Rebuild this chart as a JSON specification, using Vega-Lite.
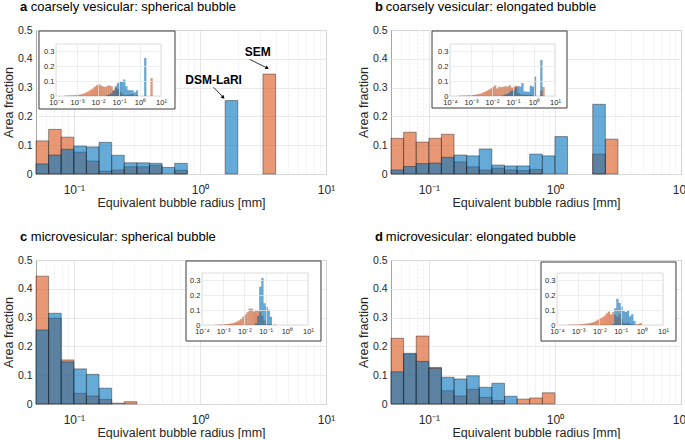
{
"$schema": "https://vega.github.io/schema/vega-lite/v6.json",
"background": "white",
"padding": {"left": 1, "top": 0, "right": 0, "bottom": 0},
"datasets": {
"main": [
{"p":"a","s":"S","lo":0.05012,"hi":0.0631,"v":0.115},
{"p":"a","s":"S","lo":0.0631,"hi":0.07943,"v":0.155},
{"p":"a","s":"S","lo":0.07943,"hi":0.1,"v":0.128},
{"p":"a","s":"S","lo":0.1,"hi":0.1259,"v":0.076},
{"p":"a","s":"S","lo":0.1259,"hi":0.1585,"v":0.045},
{"p":"a","s":"S","lo":0.1585,"hi":0.1995,"v":0.010},
{"p":"a","s":"S","lo":0.1995,"hi":0.2512,"v":0.014},
{"p":"a","s":"S","lo":0.2512,"hi":0.3162,"v":0.025},
{"p":"a","s":"S","lo":0.3162,"hi":0.3981,"v":0.025},
{"p":"a","s":"S","lo":0.3981,"hi":0.5012,"v":0.030},
{"p":"a","s":"S","lo":0.631,"hi":0.7943,"v":0.013},
{"p":"a","s":"S","lo":3.162,"hi":3.981,"v":0.347},
{"p":"a","s":"D","lo":0.05012,"hi":0.0631,"v":0.035},
{"p":"a","s":"D","lo":0.0631,"hi":0.07943,"v":0.066},
{"p":"a","s":"D","lo":0.07943,"hi":0.1,"v":0.086},
{"p":"a","s":"D","lo":0.1,"hi":0.1259,"v":0.097},
{"p":"a","s":"D","lo":0.1259,"hi":0.1585,"v":0.094},
{"p":"a","s":"D","lo":0.1585,"hi":0.1995,"v":0.110},
{"p":"a","s":"D","lo":0.1995,"hi":0.2512,"v":0.065},
{"p":"a","s":"D","lo":0.2512,"hi":0.3162,"v":0.039},
{"p":"a","s":"D","lo":0.3162,"hi":0.3981,"v":0.039},
{"p":"a","s":"D","lo":0.3981,"hi":0.5012,"v":0.037},
{"p":"a","s":"D","lo":0.5012,"hi":0.631,"v":0.023},
{"p":"a","s":"D","lo":0.631,"hi":0.7943,"v":0.037},
{"p":"a","s":"D","lo":1.585,"hi":1.995,"v":0.255},
{"p":"b","s":"S","lo":0.05012,"hi":0.0631,"v":0.124},
{"p":"b","s":"S","lo":0.0631,"hi":0.07943,"v":0.145},
{"p":"b","s":"S","lo":0.07943,"hi":0.1,"v":0.111},
{"p":"b","s":"S","lo":0.1,"hi":0.1259,"v":0.124},
{"p":"b","s":"S","lo":0.1259,"hi":0.1585,"v":0.138},
{"p":"b","s":"S","lo":0.1585,"hi":0.1995,"v":0.042},
{"p":"b","s":"S","lo":0.1995,"hi":0.2512,"v":0.025},
{"p":"b","s":"S","lo":0.2512,"hi":0.3162,"v":0.014},
{"p":"b","s":"S","lo":0.3162,"hi":0.3981,"v":0.020},
{"p":"b","s":"S","lo":0.3981,"hi":0.5012,"v":0.014},
{"p":"b","s":"S","lo":0.5012,"hi":0.631,"v":0.012},
{"p":"b","s":"S","lo":0.631,"hi":0.7943,"v":0.016},
{"p":"b","s":"S","lo":1.995,"hi":2.512,"v":0.069},
{"p":"b","s":"S","lo":2.512,"hi":3.162,"v":0.121},
{"p":"b","s":"D","lo":0.05012,"hi":0.0631,"v":0.014},
{"p":"b","s":"D","lo":0.0631,"hi":0.07943,"v":0.026},
{"p":"b","s":"D","lo":0.07943,"hi":0.1,"v":0.036},
{"p":"b","s":"D","lo":0.1,"hi":0.1259,"v":0.038},
{"p":"b","s":"D","lo":0.1259,"hi":0.1585,"v":0.058},
{"p":"b","s":"D","lo":0.1585,"hi":0.1995,"v":0.066},
{"p":"b","s":"D","lo":0.1995,"hi":0.2512,"v":0.063},
{"p":"b","s":"D","lo":0.2512,"hi":0.3162,"v":0.087},
{"p":"b","s":"D","lo":0.3162,"hi":0.3981,"v":0.031},
{"p":"b","s":"D","lo":0.3981,"hi":0.5012,"v":0.028},
{"p":"b","s":"D","lo":0.5012,"hi":0.631,"v":0.028},
{"p":"b","s":"D","lo":0.631,"hi":0.7943,"v":0.069},
{"p":"b","s":"D","lo":0.7943,"hi":1,"v":0.063},
{"p":"b","s":"D","lo":1,"hi":1.259,"v":0.130},
{"p":"b","s":"D","lo":1.995,"hi":2.512,"v":0.242},
{"p":"c","s":"S","lo":0.05012,"hi":0.0631,"v":0.444},
{"p":"c","s":"S","lo":0.0631,"hi":0.07943,"v":0.298},
{"p":"c","s":"S","lo":0.07943,"hi":0.1,"v":0.153},
{"p":"c","s":"S","lo":0.1,"hi":0.1259,"v":0.037},
{"p":"c","s":"S","lo":0.1259,"hi":0.1585,"v":0.028},
{"p":"c","s":"S","lo":0.1585,"hi":0.1995,"v":0.016},
{"p":"c","s":"S","lo":0.1995,"hi":0.2512,"v":0.003},
{"p":"c","s":"S","lo":0.2512,"hi":0.3162,"v":0.008},
{"p":"c","s":"D","lo":0.05012,"hi":0.0631,"v":0.257},
{"p":"c","s":"D","lo":0.0631,"hi":0.07943,"v":0.315},
{"p":"c","s":"D","lo":0.07943,"hi":0.1,"v":0.146},
{"p":"c","s":"D","lo":0.1,"hi":0.1259,"v":0.122},
{"p":"c","s":"D","lo":0.1259,"hi":0.1585,"v":0.103},
{"p":"c","s":"D","lo":0.1585,"hi":0.1995,"v":0.055},
{"p":"d","s":"S","lo":0.05012,"hi":0.0631,"v":0.228},
{"p":"d","s":"S","lo":0.0631,"hi":0.07943,"v":0.173},
{"p":"d","s":"S","lo":0.07943,"hi":0.1,"v":0.236},
{"p":"d","s":"S","lo":0.1,"hi":0.1259,"v":0.127},
{"p":"d","s":"S","lo":0.1259,"hi":0.1585,"v":0.046},
{"p":"d","s":"S","lo":0.1585,"hi":0.1995,"v":0.028},
{"p":"d","s":"S","lo":0.1995,"hi":0.2512,"v":0.051},
{"p":"d","s":"S","lo":0.2512,"hi":0.3162,"v":0.023},
{"p":"d","s":"S","lo":0.3162,"hi":0.3981,"v":0.012},
{"p":"d","s":"S","lo":0.5012,"hi":0.631,"v":0.017},
{"p":"d","s":"S","lo":0.631,"hi":0.7943,"v":0.021},
{"p":"d","s":"S","lo":0.7943,"hi":1,"v":0.039},
{"p":"d","s":"D","lo":0.05012,"hi":0.0631,"v":0.112},
{"p":"d","s":"D","lo":0.0631,"hi":0.07943,"v":0.176},
{"p":"d","s":"D","lo":0.07943,"hi":0.1,"v":0.148},
{"p":"d","s":"D","lo":0.1,"hi":0.1259,"v":0.124},
{"p":"d","s":"D","lo":0.1259,"hi":0.1585,"v":0.093},
{"p":"d","s":"D","lo":0.1585,"hi":0.1995,"v":0.087},
{"p":"d","s":"D","lo":0.1995,"hi":0.2512,"v":0.098},
{"p":"d","s":"D","lo":0.2512,"hi":0.3162,"v":0.058},
{"p":"d","s":"D","lo":0.3162,"hi":0.3981,"v":0.072},
{"p":"d","s":"D","lo":0.3981,"hi":0.5012,"v":0.027}
],
"inset": [
{"p":"a","s":"S","lo":2.512e-4,"hi":3.162e-4,"v":0.001},
{"p":"a","s":"S","lo":3.162e-4,"hi":3.981e-4,"v":0.002},
{"p":"a","s":"S","lo":3.981e-4,"hi":5.012e-4,"v":0.002},
{"p":"a","s":"S","lo":5.012e-4,"hi":6.31e-4,"v":0.003},
{"p":"a","s":"S","lo":6.31e-4,"hi":7.943e-4,"v":0.004},
{"p":"a","s":"S","lo":7.943e-4,"hi":1e-3,"v":0.005},
{"p":"a","s":"S","lo":1e-3,"hi":1.259e-3,"v":0.007},
{"p":"a","s":"S","lo":1.259e-3,"hi":1.585e-3,"v":0.009},
{"p":"a","s":"S","lo":1.585e-3,"hi":1.995e-3,"v":0.012},
{"p":"a","s":"S","lo":1.995e-3,"hi":2.512e-3,"v":0.017},
{"p":"a","s":"S","lo":2.512e-3,"hi":3.162e-3,"v":0.024},
{"p":"a","s":"S","lo":3.162e-3,"hi":3.981e-3,"v":0.031},
{"p":"a","s":"S","lo":3.981e-3,"hi":5.012e-3,"v":0.040},
{"p":"a","s":"S","lo":5.012e-3,"hi":6.31e-3,"v":0.050},
{"p":"a","s":"S","lo":6.31e-3,"hi":7.943e-3,"v":0.062},
{"p":"a","s":"S","lo":7.943e-3,"hi":0.01,"v":0.072},
{"p":"a","s":"S","lo":0.01,"hi":0.01259,"v":0.078},
{"p":"a","s":"S","lo":0.01259,"hi":0.01585,"v":0.070},
{"p":"a","s":"S","lo":0.01585,"hi":0.01995,"v":0.064},
{"p":"a","s":"S","lo":0.01995,"hi":0.02512,"v":0.060},
{"p":"a","s":"S","lo":0.02512,"hi":0.03162,"v":0.068},
{"p":"a","s":"S","lo":0.03162,"hi":0.03981,"v":0.070},
{"p":"a","s":"S","lo":0.03981,"hi":0.05012,"v":0.065},
{"p":"a","s":"S","lo":0.05012,"hi":0.0631,"v":0.040},
{"p":"a","s":"S","lo":0.0631,"hi":0.07943,"v":0.054},
{"p":"a","s":"S","lo":0.07943,"hi":0.1,"v":0.045},
{"p":"a","s":"S","lo":0.1,"hi":0.1259,"v":0.027},
{"p":"a","s":"S","lo":0.1259,"hi":0.1585,"v":0.016},
{"p":"a","s":"S","lo":0.1585,"hi":0.1995,"v":0.004},
{"p":"a","s":"S","lo":0.1995,"hi":0.2512,"v":0.005},
{"p":"a","s":"S","lo":0.2512,"hi":0.3162,"v":0.009},
{"p":"a","s":"S","lo":0.3162,"hi":0.3981,"v":0.009},
{"p":"a","s":"S","lo":0.3981,"hi":0.5012,"v":0.012},
{"p":"a","s":"S","lo":0.631,"hi":0.7943,"v":0.005},
{"p":"a","s":"S","lo":3.162,"hi":3.981,"v":0.120},
{"p":"a","s":"D","lo":0.02512,"hi":0.03162,"v":0.005},
{"p":"a","s":"D","lo":0.03162,"hi":0.03981,"v":0.010},
{"p":"a","s":"D","lo":0.03981,"hi":0.05012,"v":0.020},
{"p":"a","s":"D","lo":0.05012,"hi":0.0631,"v":0.035},
{"p":"a","s":"D","lo":0.0631,"hi":0.07943,"v":0.066},
{"p":"a","s":"D","lo":0.07943,"hi":0.1,"v":0.086},
{"p":"a","s":"D","lo":0.1,"hi":0.1259,"v":0.097},
{"p":"a","s":"D","lo":0.1259,"hi":0.1585,"v":0.094},
{"p":"a","s":"D","lo":0.1585,"hi":0.1995,"v":0.110},
{"p":"a","s":"D","lo":0.1995,"hi":0.2512,"v":0.065},
{"p":"a","s":"D","lo":0.2512,"hi":0.3162,"v":0.039},
{"p":"a","s":"D","lo":0.3162,"hi":0.3981,"v":0.039},
{"p":"a","s":"D","lo":0.3981,"hi":0.5012,"v":0.037},
{"p":"a","s":"D","lo":0.5012,"hi":0.631,"v":0.023},
{"p":"a","s":"D","lo":0.631,"hi":0.7943,"v":0.037},
{"p":"a","s":"D","lo":1.585,"hi":1.995,"v":0.255},
{"p":"b","s":"S","lo":2.512e-4,"hi":3.162e-4,"v":0.001},
{"p":"b","s":"S","lo":3.162e-4,"hi":3.981e-4,"v":0.001},
{"p":"b","s":"S","lo":3.981e-4,"hi":5.012e-4,"v":0.002},
{"p":"b","s":"S","lo":5.012e-4,"hi":6.31e-4,"v":0.002},
{"p":"b","s":"S","lo":6.31e-4,"hi":7.943e-4,"v":0.003},
{"p":"b","s":"S","lo":7.943e-4,"hi":1e-3,"v":0.004},
{"p":"b","s":"S","lo":1e-3,"hi":1.259e-3,"v":0.005},
{"p":"b","s":"S","lo":1.259e-3,"hi":1.585e-3,"v":0.007},
{"p":"b","s":"S","lo":1.585e-3,"hi":1.995e-3,"v":0.009},
{"p":"b","s":"S","lo":1.995e-3,"hi":2.512e-3,"v":0.012},
{"p":"b","s":"S","lo":2.512e-3,"hi":3.162e-3,"v":0.016},
{"p":"b","s":"S","lo":3.162e-3,"hi":3.981e-3,"v":0.021},
{"p":"b","s":"S","lo":3.981e-3,"hi":5.012e-3,"v":0.027},
{"p":"b","s":"S","lo":5.012e-3,"hi":6.31e-3,"v":0.034},
{"p":"b","s":"S","lo":6.31e-3,"hi":7.943e-3,"v":0.042},
{"p":"b","s":"S","lo":7.943e-3,"hi":0.01,"v":0.050},
{"p":"b","s":"S","lo":0.01,"hi":0.01259,"v":0.060},
{"p":"b","s":"S","lo":0.01259,"hi":0.01585,"v":0.070},
{"p":"b","s":"S","lo":0.01585,"hi":0.01995,"v":0.050},
{"p":"b","s":"S","lo":0.01995,"hi":0.02512,"v":0.062},
{"p":"b","s":"S","lo":0.02512,"hi":0.03162,"v":0.058},
{"p":"b","s":"S","lo":0.03162,"hi":0.03981,"v":0.062},
{"p":"b","s":"S","lo":0.03981,"hi":0.05012,"v":0.065},
{"p":"b","s":"S","lo":0.05012,"hi":0.0631,"v":0.062},
{"p":"b","s":"S","lo":0.0631,"hi":0.07943,"v":0.072},
{"p":"b","s":"S","lo":0.07943,"hi":0.1,"v":0.056},
{"p":"b","s":"S","lo":0.1,"hi":0.1259,"v":0.062},
{"p":"b","s":"S","lo":0.1259,"hi":0.1585,"v":0.069},
{"p":"b","s":"S","lo":0.1585,"hi":0.1995,"v":0.021},
{"p":"b","s":"S","lo":0.1995,"hi":0.2512,"v":0.012},
{"p":"b","s":"S","lo":0.2512,"hi":0.3162,"v":0.007},
{"p":"b","s":"S","lo":0.3162,"hi":0.3981,"v":0.010},
{"p":"b","s":"S","lo":0.3981,"hi":0.5012,"v":0.007},
{"p":"b","s":"S","lo":0.5012,"hi":0.631,"v":0.006},
{"p":"b","s":"S","lo":0.631,"hi":0.7943,"v":0.008},
{"p":"b","s":"S","lo":1.995,"hi":2.512,"v":0.035},
{"p":"b","s":"S","lo":2.512,"hi":3.162,"v":0.060},
{"p":"b","s":"D","lo":0.03162,"hi":0.03981,"v":0.005},
{"p":"b","s":"D","lo":0.03981,"hi":0.05012,"v":0.010},
{"p":"b","s":"D","lo":0.05012,"hi":0.0631,"v":0.014},
{"p":"b","s":"D","lo":0.0631,"hi":0.07943,"v":0.026},
{"p":"b","s":"D","lo":0.07943,"hi":0.1,"v":0.036},
{"p":"b","s":"D","lo":0.1,"hi":0.1259,"v":0.038},
{"p":"b","s":"D","lo":0.1259,"hi":0.1585,"v":0.058},
{"p":"b","s":"D","lo":0.1585,"hi":0.1995,"v":0.066},
{"p":"b","s":"D","lo":0.1995,"hi":0.2512,"v":0.063},
{"p":"b","s":"D","lo":0.2512,"hi":0.3162,"v":0.087},
{"p":"b","s":"D","lo":0.3162,"hi":0.3981,"v":0.031},
{"p":"b","s":"D","lo":0.3981,"hi":0.5012,"v":0.028},
{"p":"b","s":"D","lo":0.5012,"hi":0.631,"v":0.028},
{"p":"b","s":"D","lo":0.631,"hi":0.7943,"v":0.069},
{"p":"b","s":"D","lo":0.7943,"hi":1,"v":0.063},
{"p":"b","s":"D","lo":1,"hi":1.259,"v":0.130},
{"p":"b","s":"D","lo":1.995,"hi":2.512,"v":0.242},
{"p":"c","s":"S","lo":3.981e-4,"hi":5.012e-4,"v":0.001},
{"p":"c","s":"S","lo":5.012e-4,"hi":6.31e-4,"v":0.001},
{"p":"c","s":"S","lo":6.31e-4,"hi":7.943e-4,"v":0.002},
{"p":"c","s":"S","lo":7.943e-4,"hi":1e-3,"v":0.003},
{"p":"c","s":"S","lo":1e-3,"hi":1.259e-3,"v":0.004},
{"p":"c","s":"S","lo":1.259e-3,"hi":1.585e-3,"v":0.005},
{"p":"c","s":"S","lo":1.585e-3,"hi":1.995e-3,"v":0.007},
{"p":"c","s":"S","lo":1.995e-3,"hi":2.512e-3,"v":0.009},
{"p":"c","s":"S","lo":2.512e-3,"hi":3.162e-3,"v":0.012},
{"p":"c","s":"S","lo":3.162e-3,"hi":3.981e-3,"v":0.016},
{"p":"c","s":"S","lo":3.981e-3,"hi":5.012e-3,"v":0.022},
{"p":"c","s":"S","lo":5.012e-3,"hi":6.31e-3,"v":0.030},
{"p":"c","s":"S","lo":6.31e-3,"hi":7.943e-3,"v":0.040},
{"p":"c","s":"S","lo":7.943e-3,"hi":0.01,"v":0.055},
{"p":"c","s":"S","lo":0.01,"hi":0.01259,"v":0.070},
{"p":"c","s":"S","lo":0.01259,"hi":0.01585,"v":0.085},
{"p":"c","s":"S","lo":0.01585,"hi":0.01995,"v":0.110},
{"p":"c","s":"S","lo":0.01995,"hi":0.02512,"v":0.110},
{"p":"c","s":"S","lo":0.02512,"hi":0.03162,"v":0.090},
{"p":"c","s":"S","lo":0.03162,"hi":0.03981,"v":0.098},
{"p":"c","s":"S","lo":0.03981,"hi":0.05012,"v":0.095},
{"p":"c","s":"S","lo":0.05012,"hi":0.0631,"v":0.085},
{"p":"c","s":"S","lo":0.0631,"hi":0.07943,"v":0.060},
{"p":"c","s":"S","lo":0.07943,"hi":0.1,"v":0.030},
{"p":"c","s":"S","lo":0.1,"hi":0.1259,"v":0.008},
{"p":"c","s":"S","lo":0.1259,"hi":0.1585,"v":0.006},
{"p":"c","s":"S","lo":0.1585,"hi":0.1995,"v":0.003},
{"p":"c","s":"S","lo":0.2512,"hi":0.3162,"v":0.002},
{"p":"c","s":"D","lo":0.03162,"hi":0.03981,"v":0.010},
{"p":"c","s":"D","lo":0.03981,"hi":0.05012,"v":0.060},
{"p":"c","s":"D","lo":0.05012,"hi":0.0631,"v":0.257},
{"p":"c","s":"D","lo":0.0631,"hi":0.07943,"v":0.315},
{"p":"c","s":"D","lo":0.07943,"hi":0.1,"v":0.146},
{"p":"c","s":"D","lo":0.1,"hi":0.1259,"v":0.122},
{"p":"c","s":"D","lo":0.1259,"hi":0.1585,"v":0.103},
{"p":"c","s":"D","lo":0.1585,"hi":0.1995,"v":0.055},
{"p":"d","s":"S","lo":3.162e-4,"hi":3.981e-4,"v":0.001},
{"p":"d","s":"S","lo":3.981e-4,"hi":5.012e-4,"v":0.001},
{"p":"d","s":"S","lo":5.012e-4,"hi":6.31e-4,"v":0.002},
{"p":"d","s":"S","lo":6.31e-4,"hi":7.943e-4,"v":0.002},
{"p":"d","s":"S","lo":7.943e-4,"hi":1e-3,"v":0.003},
{"p":"d","s":"S","lo":1e-3,"hi":1.259e-3,"v":0.004},
{"p":"d","s":"S","lo":1.259e-3,"hi":1.585e-3,"v":0.005},
{"p":"d","s":"S","lo":1.585e-3,"hi":1.995e-3,"v":0.006},
{"p":"d","s":"S","lo":1.995e-3,"hi":2.512e-3,"v":0.008},
{"p":"d","s":"S","lo":2.512e-3,"hi":3.162e-3,"v":0.010},
{"p":"d","s":"S","lo":3.162e-3,"hi":3.981e-3,"v":0.012},
{"p":"d","s":"S","lo":3.981e-3,"hi":5.012e-3,"v":0.015},
{"p":"d","s":"S","lo":5.012e-3,"hi":6.31e-3,"v":0.020},
{"p":"d","s":"S","lo":6.31e-3,"hi":7.943e-3,"v":0.028},
{"p":"d","s":"S","lo":7.943e-3,"hi":0.01,"v":0.036},
{"p":"d","s":"S","lo":0.01,"hi":0.01259,"v":0.044},
{"p":"d","s":"S","lo":0.01259,"hi":0.01585,"v":0.050},
{"p":"d","s":"S","lo":0.01585,"hi":0.01995,"v":0.062},
{"p":"d","s":"S","lo":0.01995,"hi":0.02512,"v":0.078},
{"p":"d","s":"S","lo":0.02512,"hi":0.03162,"v":0.090},
{"p":"d","s":"S","lo":0.03162,"hi":0.03981,"v":0.070},
{"p":"d","s":"S","lo":0.03981,"hi":0.05012,"v":0.085},
{"p":"d","s":"S","lo":0.05012,"hi":0.0631,"v":0.068},
{"p":"d","s":"S","lo":0.0631,"hi":0.07943,"v":0.052},
{"p":"d","s":"S","lo":0.07943,"hi":0.1,"v":0.071},
{"p":"d","s":"S","lo":0.1,"hi":0.1259,"v":0.038},
{"p":"d","s":"S","lo":0.1259,"hi":0.1585,"v":0.014},
{"p":"d","s":"S","lo":0.1585,"hi":0.1995,"v":0.008},
{"p":"d","s":"S","lo":0.1995,"hi":0.2512,"v":0.015},
{"p":"d","s":"S","lo":0.2512,"hi":0.3162,"v":0.007},
{"p":"d","s":"S","lo":0.3162,"hi":0.3981,"v":0.003},
{"p":"d","s":"S","lo":0.5012,"hi":0.631,"v":0.005},
{"p":"d","s":"S","lo":0.631,"hi":0.7943,"v":0.006},
{"p":"d","s":"S","lo":0.7943,"hi":1,"v":0.012},
{"p":"d","s":"D","lo":0.03981,"hi":0.05012,"v":0.005},
{"p":"d","s":"D","lo":0.05012,"hi":0.0631,"v":0.112},
{"p":"d","s":"D","lo":0.0631,"hi":0.07943,"v":0.176},
{"p":"d","s":"D","lo":0.07943,"hi":0.1,"v":0.148},
{"p":"d","s":"D","lo":0.1,"hi":0.1259,"v":0.124},
{"p":"d","s":"D","lo":0.1259,"hi":0.1585,"v":0.093},
{"p":"d","s":"D","lo":0.1585,"hi":0.1995,"v":0.087},
{"p":"d","s":"D","lo":0.1995,"hi":0.2512,"v":0.098},
{"p":"d","s":"D","lo":0.2512,"hi":0.3162,"v":0.058},
{"p":"d","s":"D","lo":0.3162,"hi":0.3981,"v":0.072},
{"p":"d","s":"D","lo":0.3981,"hi":0.5012,"v":0.027}
]
},
"concat": [
{
"width": 290, "height": 144,
"title": {"text": "a", "subtitle": "\u200b\u00a0\u00a0\u00a0coarsely vesicular: spherical bubble"},
"layer": [
{"layer": [
{"data": {"name": "main"}, "transform": [{"filter": "datum.p == 'a'"}],
 "mark": {"type": "rect", "fillOpacity": 0.6, "stroke": "#1a1a1a", "strokeOpacity": 0.6, "strokeWidth": 0.7},
 "encoding": {
  "x": {"field": "lo", "type": "quantitative", "scale": {"type": "log", "domain": [0.05012, 10], "nice": false},
   "axis": {"orient": "bottom", "values": [0.06,0.07,0.08,0.09,0.1,0.2,0.3,0.4,0.5,0.6,0.7,0.8,0.9,1,2,3,4,5,6,7,8,9,10], "labelExpr": "datum.value == 0.1 ? '10⁻¹' : datum.value == 1 ? '10⁰' : datum.value == 10 ? '10¹' : ''", "title": "Equivalent bubble radius [mm]", "titleFontSize": 12.5, "labelFontSize": 12, "labelPadding": 10, "titlePadding": 1, "grid": true, "gridWidth": 0.8, "gridColor": {"condition": {"test": "datum.value == 0.1 || datum.value == 1 || datum.value == 10", "value": "#dedede"}, "value": "#e6e6e6"}, "gridDash": {"condition": {"test": "datum.value == 0.1 || datum.value == 1 || datum.value == 10", "value": []}, "value": [2, 2]}}},
  "x2": {"field": "hi"},
  "y": {"field": "v", "type": "quantitative", "scale": {"domain": [0, 0.5], "nice": false},
   "axis": {"orient": "left", "values": [0,0.1,0.2,0.3,0.4,0.5], "format": "~g", "title": "Area fraction", "titleFontSize": 12.5, "labelFontSize": 10.5, "labelPadding": 4, "titlePadding": 2, "grid": true, "gridWidth": 0.8, "gridColor": "#e4e4e4"}},
  "y2": {"datum": 0},
  "color": {"field": "s", "type": "nominal", "scale": {"domain": ["S", "D"], "range": ["#D95319", "#0072BD"]}, "legend": null}
 }}
]},
{"layer": [
{"data": {"values": [{}]}, "mark": {"type": "rect", "fill": "white", "stroke": "#3a3a3a", "strokeWidth": 1},
 "encoding": {
  "x": {"datum": 1.55e-5, "type": "quantitative", "scale": {"type": "log", "domain": [1e-4, 10], "range": [20, 125], "nice": false}, "axis": null},
  "x2": {"datum": 46.4},
  "y": {"datum": -0.0875, "type": "quantitative", "scale": {"domain": [0, 0.35], "range": [66, 14], "nice": false}, "axis": null},
  "y2": {"datum": 0.4375}}},
{"data": {"values": [{}]}, "mark": {"type": "rect", "fillOpacity": 0, "stroke": "#cfcfcf", "strokeWidth": 0.7},
 "encoding": {
  "x": {"datum": 1e-4, "type": "quantitative", "scale": {"type": "log", "domain": [1e-4, 10], "range": [20, 125], "nice": false},
   "axis": {"orient": "top", "values": [1e-4, 1e-3, 0.01, 0.1, 1, 10], "labels": false, "grid": true, "gridColor": "#e6e6e6", "gridWidth": 0.7, "title": null, "zindex": 1}},
  "x2": {"datum": 10},
  "y": {"datum": 0, "type": "quantitative", "scale": {"domain": [0, 0.35], "range": [66, 14], "nice": false}, "axis": null},
  "y2": {"datum": 0.35}}},
{"data": {"name": "inset"}, "transform": [{"filter": "datum.p == 'a'"}],
 "mark": {"type": "rect", "fillOpacity": 0.6, "stroke": "#000", "strokeOpacity": 0.2, "strokeWidth": 0.3},
 "encoding": {
  "x": {"field": "lo", "type": "quantitative", "scale": {"type": "log", "domain": [1e-4, 10], "range": [20, 125], "nice": false},
   "axis": {"orient": "bottom", "offset": -78, "values": [1e-4, 1e-3, 0.01, 0.1, 1, 10], "labelExpr": "datum.value < 0.0005 ? '10⁻⁴' : datum.value < 0.005 ? '10⁻³' : datum.value < 0.05 ? '10⁻²' : datum.value < 0.5 ? '10⁻¹' : datum.value < 5 ? '10⁰' : '10¹'", "labelFontSize": 7.5, "labelPadding": 2, "grid": false, "title": null, "zindex": 1}},
  "x2": {"field": "hi"},
  "y": {"field": "v", "type": "quantitative", "scale": {"domain": [0, 0.35], "range": [66, 14], "nice": false},
   "axis": {"orient": "left", "offset": -20, "values": [0, 0.1, 0.2, 0.3], "format": "~g", "labelFontSize": 7.5, "labelPadding": 2, "grid": true, "gridColor": "#e6e6e6", "gridWidth": 0.7, "title": null, "zindex": 1}},
  "y2": {"datum": 0},
  "color": {"field": "s", "type": "nominal", "scale": {"domain": ["S", "D"], "range": ["#D95319", "#0072BD"]}, "legend": null}
 }}
], "resolve": {"axis": {"x": "independent", "y": "independent"}}},
{"layer": [
{"data": {"values": [{}]}, "mark": {"type": "rule", "color": "#000", "strokeWidth": 0.8},
 "encoding": {
  "x": {"datum": 1.284, "type": "quantitative", "scale": {"type": "log", "domain": [0.05012, 10], "nice": false}, "axis": null},
  "x2": {"datum": 1.52},
  "y": {"datum": 0.301, "type": "quantitative", "scale": {"domain": [0, 0.5], "nice": false}, "axis": null},
  "y2": {"datum": 0.268}}},
{"data": {"values": [{}]}, "mark": {"type": "rule", "color": "#000", "strokeWidth": 0.8},
 "encoding": {
  "x": {"datum": 2.478, "type": "quantitative", "scale": {"type": "log", "domain": [0.05012, 10], "nice": false}, "axis": null},
  "x2": {"datum": 3.38},
  "y": {"datum": 0.398, "type": "quantitative", "scale": {"domain": [0, 0.5], "nice": false}, "axis": null},
  "y2": {"datum": 0.369}}},
{"data": {"values": [{}]}, "mark": {"type": "point", "shape": "triangle-down", "filled": true, "color": "#000", "size": 16, "angle": 316, "opacity": 1},
 "encoding": {
  "x": {"datum": 1.53, "type": "quantitative", "scale": {"type": "log", "domain": [0.05012, 10], "nice": false}, "axis": null},
  "y": {"datum": 0.266, "type": "quantitative", "scale": {"domain": [0, 0.5], "nice": false}, "axis": null}}},
{"data": {"values": [{}]}, "mark": {"type": "point", "shape": "triangle-down", "filled": true, "color": "#000", "size": 16, "angle": 296, "opacity": 1},
 "encoding": {
  "x": {"datum": 3.42, "type": "quantitative", "scale": {"type": "log", "domain": [0.05012, 10], "nice": false}, "axis": null},
  "y": {"datum": 0.368, "type": "quantitative", "scale": {"domain": [0, 0.5], "nice": false}, "axis": null}}},
{"data": {"values": [{}]}, "mark": {"type": "text", "text": "DSM-LaRI", "fontWeight": "bold", "fontSize": 12, "color": "#000", "align": "center", "baseline": "middle"},
 "encoding": {
  "x": {"datum": 1.284, "type": "quantitative", "scale": {"type": "log", "domain": [0.05012, 10], "nice": false}, "axis": null},
  "y": {"datum": 0.326, "type": "quantitative", "scale": {"domain": [0, 0.5], "nice": false}, "axis": null}}},
{"data": {"values": [{}]}, "mark": {"type": "text", "text": "SEM", "fontWeight": "bold", "fontSize": 12, "color": "#000", "align": "center", "baseline": "middle"},
 "encoding": {
  "x": {"datum": 2.88, "type": "quantitative", "scale": {"type": "log", "domain": [0.05012, 10], "nice": false}, "axis": null},
  "y": {"datum": 0.425, "type": "quantitative", "scale": {"domain": [0, 0.5], "nice": false}, "axis": null}}}
]}
],
"resolve": {"scale": {"x": "independent", "y": "independent"}, "axis": {"x": "independent", "y": "independent"}}
},
{
"width": 290, "height": 144,
"title": {"text": "b", "subtitle": "\u200b\u00a0\u00a0\u00a0coarsely vesicular: elongated bubble"},
"layer": [
{"layer": [
{"data": {"name": "main"}, "transform": [{"filter": "datum.p == 'b'"}],
 "mark": {"type": "rect", "fillOpacity": 0.6, "stroke": "#1a1a1a", "strokeOpacity": 0.6, "strokeWidth": 0.7},
 "encoding": {
  "x": {"field": "lo", "type": "quantitative", "scale": {"type": "log", "domain": [0.05012, 10], "nice": false},
   "axis": {"orient": "bottom", "values": [0.06,0.07,0.08,0.09,0.1,0.2,0.3,0.4,0.5,0.6,0.7,0.8,0.9,1,2,3,4,5,6,7,8,9,10], "labelExpr": "datum.value == 0.1 ? '10⁻¹' : datum.value == 1 ? '10⁰' : datum.value == 10 ? '10¹' : ''", "title": "Equivalent bubble radius [mm]", "titleFontSize": 12.5, "labelFontSize": 12, "labelPadding": 10, "titlePadding": 1, "grid": true, "gridWidth": 0.8, "gridColor": {"condition": {"test": "datum.value == 0.1 || datum.value == 1 || datum.value == 10", "value": "#dedede"}, "value": "#e6e6e6"}, "gridDash": {"condition": {"test": "datum.value == 0.1 || datum.value == 1 || datum.value == 10", "value": []}, "value": [2, 2]}}},
  "x2": {"field": "hi"},
  "y": {"field": "v", "type": "quantitative", "scale": {"domain": [0, 0.5], "nice": false},
   "axis": {"orient": "left", "values": [0,0.1,0.2,0.3,0.4,0.5], "format": "~g", "title": "Area fraction", "titleFontSize": 12.5, "labelFontSize": 10.5, "labelPadding": 4, "titlePadding": 2, "grid": true, "gridWidth": 0.8, "gridColor": "#e4e4e4"}},
  "y2": {"datum": 0},
  "color": {"field": "s", "type": "nominal", "scale": {"domain": ["S", "D"], "range": ["#D95319", "#0072BD"]}, "legend": null}
 }}
]},
{"layer": [
{"data": {"values": [{}]}, "mark": {"type": "rect", "fill": "white", "stroke": "#3a3a3a", "strokeWidth": 1},
 "encoding": {
  "x": {"datum": 1.39e-5, "type": "quantitative", "scale": {"type": "log", "domain": [1e-4, 10], "range": [59, 164], "nice": false}, "axis": null},
  "x2": {"datum": 37.3},
  "y": {"datum": -0.0808, "type": "quantitative", "scale": {"domain": [0, 0.35], "range": [66, 14], "nice": false}, "axis": null},
  "y2": {"datum": 0.4375}}},
{"data": {"values": [{}]}, "mark": {"type": "rect", "fillOpacity": 0, "stroke": "#cfcfcf", "strokeWidth": 0.7},
 "encoding": {
  "x": {"datum": 1e-4, "type": "quantitative", "scale": {"type": "log", "domain": [1e-4, 10], "range": [59, 164], "nice": false},
   "axis": {"orient": "top", "values": [1e-4, 1e-3, 0.01, 0.1, 1, 10], "labels": false, "grid": true, "gridColor": "#e6e6e6", "gridWidth": 0.7, "title": null, "zindex": 1}},
  "x2": {"datum": 10},
  "y": {"datum": 0, "type": "quantitative", "scale": {"domain": [0, 0.35], "range": [66, 14], "nice": false}, "axis": null},
  "y2": {"datum": 0.35}}},
{"data": {"name": "inset"}, "transform": [{"filter": "datum.p == 'b'"}],
 "mark": {"type": "rect", "fillOpacity": 0.6, "stroke": "#000", "strokeOpacity": 0.2, "strokeWidth": 0.3},
 "encoding": {
  "x": {"field": "lo", "type": "quantitative", "scale": {"type": "log", "domain": [1e-4, 10], "range": [59, 164], "nice": false},
   "axis": {"orient": "bottom", "offset": -78, "values": [1e-4, 1e-3, 0.01, 0.1, 1, 10], "labelExpr": "datum.value < 0.0005 ? '10⁻⁴' : datum.value < 0.005 ? '10⁻³' : datum.value < 0.05 ? '10⁻²' : datum.value < 0.5 ? '10⁻¹' : datum.value < 5 ? '10⁰' : '10¹'", "labelFontSize": 7.5, "labelPadding": 2, "grid": false, "title": null, "zindex": 1}},
  "x2": {"field": "hi"},
  "y": {"field": "v", "type": "quantitative", "scale": {"domain": [0, 0.35], "range": [66, 14], "nice": false},
   "axis": {"orient": "left", "offset": -59, "values": [0, 0.1, 0.2, 0.3], "format": "~g", "labelFontSize": 7.5, "labelPadding": 2, "grid": true, "gridColor": "#e6e6e6", "gridWidth": 0.7, "title": null, "zindex": 1}},
  "y2": {"datum": 0},
  "color": {"field": "s", "type": "nominal", "scale": {"domain": ["S", "D"], "range": ["#D95319", "#0072BD"]}, "legend": null}
 }}
], "resolve": {"axis": {"x": "independent", "y": "independent"}}}
],
"resolve": {"scale": {"x": "independent", "y": "independent"}, "axis": {"x": "independent", "y": "independent"}}
},
{
"width": 290, "height": 144,
"title": {"text": "c", "subtitle": "\u200b\u00a0\u00a0\u00a0microvesicular: spherical bubble"},
"layer": [
{"layer": [
{"data": {"name": "main"}, "transform": [{"filter": "datum.p == 'c'"}],
 "mark": {"type": "rect", "fillOpacity": 0.6, "stroke": "#1a1a1a", "strokeOpacity": 0.6, "strokeWidth": 0.7},
 "encoding": {
  "x": {"field": "lo", "type": "quantitative", "scale": {"type": "log", "domain": [0.05012, 10], "nice": false},
   "axis": {"orient": "bottom", "values": [0.06,0.07,0.08,0.09,0.1,0.2,0.3,0.4,0.5,0.6,0.7,0.8,0.9,1,2,3,4,5,6,7,8,9,10], "labelExpr": "datum.value == 0.1 ? '10⁻¹' : datum.value == 1 ? '10⁰' : datum.value == 10 ? '10¹' : ''", "title": "Equivalent bubble radius [mm]", "titleFontSize": 12.5, "labelFontSize": 12, "labelPadding": 10, "titlePadding": 1, "grid": true, "gridWidth": 0.8, "gridColor": {"condition": {"test": "datum.value == 0.1 || datum.value == 1 || datum.value == 10", "value": "#dedede"}, "value": "#e6e6e6"}, "gridDash": {"condition": {"test": "datum.value == 0.1 || datum.value == 1 || datum.value == 10", "value": []}, "value": [2, 2]}}},
  "x2": {"field": "hi"},
  "y": {"field": "v", "type": "quantitative", "scale": {"domain": [0, 0.5], "nice": false},
   "axis": {"orient": "left", "values": [0,0.1,0.2,0.3,0.4,0.5], "format": "~g", "title": "Area fraction", "titleFontSize": 12.5, "labelFontSize": 10.5, "labelPadding": 4, "titlePadding": 2, "grid": true, "gridWidth": 0.8, "gridColor": "#e4e4e4"}},
  "y2": {"datum": 0},
  "color": {"field": "s", "type": "nominal", "scale": {"domain": ["S", "D"], "range": ["#D95319", "#0072BD"]}, "legend": null}
 }}
]},
{"layer": [
{"data": {"values": [{}]}, "mark": {"type": "rect", "fill": "white", "stroke": "#3a3a3a", "strokeWidth": 1},
 "encoding": {
  "x": {"datum": 1.76e-5, "type": "quantitative", "scale": {"type": "log", "domain": [1e-4, 10], "range": [166, 272], "nice": false}, "axis": null},
  "x2": {"datum": 41.0},
  "y": {"datum": -0.1077, "type": "quantitative", "scale": {"domain": [0, 0.35], "range": [65, 13], "nice": false}, "axis": null},
  "y2": {"datum": 0.4308}}},
{"data": {"values": [{}]}, "mark": {"type": "rect", "fillOpacity": 0, "stroke": "#cfcfcf", "strokeWidth": 0.7},
 "encoding": {
  "x": {"datum": 1e-4, "type": "quantitative", "scale": {"type": "log", "domain": [1e-4, 10], "range": [166, 272], "nice": false},
   "axis": {"orient": "top", "values": [1e-4, 1e-3, 0.01, 0.1, 1, 10], "labels": false, "grid": true, "gridColor": "#e6e6e6", "gridWidth": 0.7, "title": null, "zindex": 1}},
  "x2": {"datum": 10},
  "y": {"datum": 0, "type": "quantitative", "scale": {"domain": [0, 0.35], "range": [65, 13], "nice": false}, "axis": null},
  "y2": {"datum": 0.35}}},
{"data": {"name": "inset"}, "transform": [{"filter": "datum.p == 'c'"}],
 "mark": {"type": "rect", "fillOpacity": 0.6, "stroke": "#000", "strokeOpacity": 0.2, "strokeWidth": 0.3},
 "encoding": {
  "x": {"field": "lo", "type": "quantitative", "scale": {"type": "log", "domain": [1e-4, 10], "range": [166, 272], "nice": false},
   "axis": {"orient": "bottom", "offset": -79, "values": [1e-4, 1e-3, 0.01, 0.1, 1, 10], "labelExpr": "datum.value < 0.0005 ? '10⁻⁴' : datum.value < 0.005 ? '10⁻³' : datum.value < 0.05 ? '10⁻²' : datum.value < 0.5 ? '10⁻¹' : datum.value < 5 ? '10⁰' : '10¹'", "labelFontSize": 7.5, "labelPadding": 2, "grid": false, "title": null, "zindex": 1}},
  "x2": {"field": "hi"},
  "y": {"field": "v", "type": "quantitative", "scale": {"domain": [0, 0.35], "range": [65, 13], "nice": false},
   "axis": {"orient": "left", "offset": -166, "values": [0, 0.1, 0.2, 0.3], "format": "~g", "labelFontSize": 7.5, "labelPadding": 2, "grid": true, "gridColor": "#e6e6e6", "gridWidth": 0.7, "title": null, "zindex": 1}},
  "y2": {"datum": 0},
  "color": {"field": "s", "type": "nominal", "scale": {"domain": ["S", "D"], "range": ["#D95319", "#0072BD"]}, "legend": null}
 }}
], "resolve": {"axis": {"x": "independent", "y": "independent"}}}
],
"resolve": {"scale": {"x": "independent", "y": "independent"}, "axis": {"x": "independent", "y": "independent"}}
},
{
"width": 290, "height": 144,
"title": {"text": "d", "subtitle": "\u200b\u00a0\u00a0\u00a0microvesicular: elongated bubble"},
"layer": [
{"layer": [
{"data": {"name": "main"}, "transform": [{"filter": "datum.p == 'd'"}],
 "mark": {"type": "rect", "fillOpacity": 0.6, "stroke": "#1a1a1a", "strokeOpacity": 0.6, "strokeWidth": 0.7},
 "encoding": {
  "x": {"field": "lo", "type": "quantitative", "scale": {"type": "log", "domain": [0.05012, 10], "nice": false},
   "axis": {"orient": "bottom", "values": [0.06,0.07,0.08,0.09,0.1,0.2,0.3,0.4,0.5,0.6,0.7,0.8,0.9,1,2,3,4,5,6,7,8,9,10], "labelExpr": "datum.value == 0.1 ? '10⁻¹' : datum.value == 1 ? '10⁰' : datum.value == 10 ? '10¹' : ''", "title": "Equivalent bubble radius [mm]", "titleFontSize": 12.5, "labelFontSize": 12, "labelPadding": 10, "titlePadding": 1, "grid": true, "gridWidth": 0.8, "gridColor": {"condition": {"test": "datum.value == 0.1 || datum.value == 1 || datum.value == 10", "value": "#dedede"}, "value": "#e6e6e6"}, "gridDash": {"condition": {"test": "datum.value == 0.1 || datum.value == 1 || datum.value == 10", "value": []}, "value": [2, 2]}}},
  "x2": {"field": "hi"},
  "y": {"field": "v", "type": "quantitative", "scale": {"domain": [0, 0.5], "nice": false},
   "axis": {"orient": "left", "values": [0,0.1,0.2,0.3,0.4,0.5], "format": "~g", "title": "Area fraction", "titleFontSize": 12.5, "labelFontSize": 10.5, "labelPadding": 4, "titlePadding": 2, "grid": true, "gridWidth": 0.8, "gridColor": "#e4e4e4"}},
  "y2": {"datum": 0},
  "color": {"field": "s", "type": "nominal", "scale": {"domain": ["S", "D"], "range": ["#D95319", "#0072BD"]}, "legend": null}
 }}
]},
{"layer": [
{"data": {"values": [{}]}, "mark": {"type": "rect", "fill": "white", "stroke": "#3a3a3a", "strokeWidth": 1},
 "encoding": {
  "x": {"datum": 1.76e-5, "type": "quantitative", "scale": {"type": "log", "domain": [1e-4, 10], "range": [166, 272], "nice": false}, "axis": null},
  "x2": {"datum": 41.0},
  "y": {"datum": -0.1077, "type": "quantitative", "scale": {"domain": [0, 0.35], "range": [65, 13], "nice": false}, "axis": null},
  "y2": {"datum": 0.424}}},
{"data": {"values": [{}]}, "mark": {"type": "rect", "fillOpacity": 0, "stroke": "#cfcfcf", "strokeWidth": 0.7},
 "encoding": {
  "x": {"datum": 1e-4, "type": "quantitative", "scale": {"type": "log", "domain": [1e-4, 10], "range": [166, 272], "nice": false},
   "axis": {"orient": "top", "values": [1e-4, 1e-3, 0.01, 0.1, 1, 10], "labels": false, "grid": true, "gridColor": "#e6e6e6", "gridWidth": 0.7, "title": null, "zindex": 1}},
  "x2": {"datum": 10},
  "y": {"datum": 0, "type": "quantitative", "scale": {"domain": [0, 0.35], "range": [65, 13], "nice": false}, "axis": null},
  "y2": {"datum": 0.35}}},
{"data": {"name": "inset"}, "transform": [{"filter": "datum.p == 'd'"}],
 "mark": {"type": "rect", "fillOpacity": 0.6, "stroke": "#000", "strokeOpacity": 0.2, "strokeWidth": 0.3},
 "encoding": {
  "x": {"field": "lo", "type": "quantitative", "scale": {"type": "log", "domain": [1e-4, 10], "range": [166, 272], "nice": false},
   "axis": {"orient": "bottom", "offset": -79, "values": [1e-4, 1e-3, 0.01, 0.1, 1, 10], "labelExpr": "datum.value < 0.0005 ? '10⁻⁴' : datum.value < 0.005 ? '10⁻³' : datum.value < 0.05 ? '10⁻²' : datum.value < 0.5 ? '10⁻¹' : datum.value < 5 ? '10⁰' : '10¹'", "labelFontSize": 7.5, "labelPadding": 2, "grid": false, "title": null, "zindex": 1}},
  "x2": {"field": "hi"},
  "y": {"field": "v", "type": "quantitative", "scale": {"domain": [0, 0.35], "range": [65, 13], "nice": false},
   "axis": {"orient": "left", "offset": -166, "values": [0, 0.1, 0.2, 0.3], "format": "~g", "labelFontSize": 7.5, "labelPadding": 2, "grid": true, "gridColor": "#e6e6e6", "gridWidth": 0.7, "title": null, "zindex": 1}},
  "y2": {"datum": 0},
  "color": {"field": "s", "type": "nominal", "scale": {"domain": ["S", "D"], "range": ["#D95319", "#0072BD"]}, "legend": null}
 }}
], "resolve": {"axis": {"x": "independent", "y": "independent"}}}
],
"resolve": {"scale": {"x": "independent", "y": "independent"}, "axis": {"x": "independent", "y": "independent"}}
}
],
"columns": 2,
"spacing": {"row": 86, "column": 65},
"bounds": "flush",
"config": {
 "font": "Liberation Sans",
 "view": {"stroke": "#a6a6a6", "strokeWidth": 1},
 "title": {"anchor": "start", "frame": "group", "fontSize": 13, "fontWeight": "bold", "color": "#000", "subtitleFontSize": 13, "subtitleColor": "#000", "subtitleFont": "Liberation Sans", "subtitlePadding": -13, "dx": -16, "offset": 11},
 "axis": {"labelColor": "#262626", "titleColor": "#262626", "titleFontWeight": "normal", "ticks": false, "domain": false, "labelFlush": false, "labelOverlap": false, "labelBound": false}
}
}
